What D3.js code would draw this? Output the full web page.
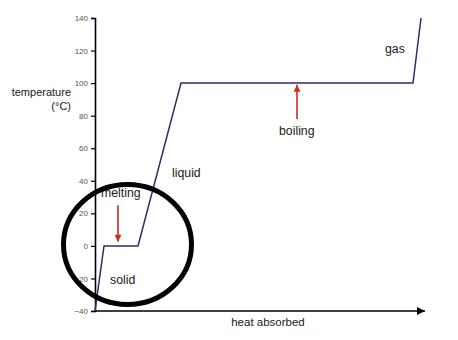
<!DOCTYPE html>
<html><head><meta charset="utf-8">
<script src="https://cdn.jsdelivr.net/npm/d3@7"></script>
<style>body{margin:0;background:#fff}svg{display:block}text{font-family:"Liberation Sans",Arial,sans-serif}</style>
</head><body>
<script>
const heat = [0, 9, 43, 86, 318, 326];
const temperature = [-40, 0, 0, 100, 100, 140];
const yTicks = [-40, -20, 0, 20, 40, 60, 80, 100, 120, 140];
const labels = [
  {text: "melting", h: 6, t: 30},
  {text: "solid", h: 15, t: -23.4},
  {text: "liquid", h: 77, t: 42.3},
  {text: "boiling", h: 184, t: 68},
  {text: "gas", h: 290, t: 118.5}
];
const arrows = [
  {h: 23, from: 25, to: 2.5},
  {h: 202, from: 78, to: 99}
];

const W = 458, H = 340;
const svg = d3.select("body").append("svg").attr("width", W).attr("height", H);
const x = d3.scaleLinear().domain([0, 330]).range([95, 425]);
const y = d3.scaleLinear().domain([-40, 140]).range([311, 18]);

const defs = svg.append("defs");
defs.append("marker").attr("id","ax").attr("viewBox","0 0 10 10").attr("refX",10).attr("refY",5)
  .attr("markerWidth",10).attr("markerHeight",8).attr("markerUnits","userSpaceOnUse").attr("orient","auto")
  .append("path").attr("d","M0,0L10,5L0,10Z").attr("fill","#000");
defs.append("marker").attr("id","red").attr("viewBox","0 0 10 10").attr("refX",10).attr("refY",5)
  .attr("markerWidth",8).attr("markerHeight",7).attr("markerUnits","userSpaceOnUse").attr("orient","auto")
  .append("path").attr("d","M0,0L10,5L0,10Z").attr("fill","#d4291f");

// y axis
const yAxis = svg.append("g").attr("transform", `translate(${x(0)},0)`)
  .call(d3.axisLeft(y).tickValues(yTicks).tickSize(4).tickPadding(3));
yAxis.select(".domain").attr("stroke","#000").attr("stroke-width",1.6);
yAxis.selectAll(".tick line").attr("stroke","#000").attr("stroke-width",1.2);
yAxis.selectAll(".tick text").attr("fill","#55553a").attr("font-size",8).attr("font-family","Liberation Sans, Arial, sans-serif");

// x axis
svg.append("line").attr("x1", x(0)).attr("x2", x(330)).attr("y1", y(-40)).attr("y2", y(-40))
  .attr("stroke","#000").attr("stroke-width",1.4).attr("marker-end","url(#ax)");

// curve
const pts = heat.map((h,i)=>[h, temperature[i]]);
svg.append("path").attr("d", d3.line().x(d=>x(d[0])).y(d=>y(d[1]))(pts))
  .attr("fill","none").attr("stroke","#2e2e66").attr("stroke-width",1.5);

// arrows
arrows.forEach(a=>{
  svg.append("line").attr("x1",x(a.h)).attr("x2",x(a.h)).attr("y1",y(a.from)).attr("y2",y(a.to))
    .attr("stroke","#d4291f").attr("stroke-width",1.6).attr("marker-end","url(#red)");
});

// labels
labels.forEach(l=>{
  svg.append("text").attr("x",x(l.h)).attr("y",y(l.t)).attr("font-size",12.3).attr("fill","#1a1a1a").text(l.text);
});

// circle
svg.append("ellipse").attr("cx",127.5).attr("cy",244.5).attr("rx",64).attr("ry",60)
  .attr("fill","none").attr("stroke","#000").attr("stroke-width",5);

// axis titles
svg.append("text").attr("x",71).attr("y",96).attr("text-anchor","end").attr("font-size",11).attr("fill","#1a1a1a").text("temperature");
svg.append("text").attr("x",71).attr("y",110).attr("text-anchor","end").attr("font-size",11).attr("fill","#1a1a1a").text("(°C)");
svg.append("text").attr("x",268).attr("y",326).attr("text-anchor","middle").attr("font-size",11.5).attr("fill","#1a1a1a").text("heat absorbed");
</script>
</body></html>
